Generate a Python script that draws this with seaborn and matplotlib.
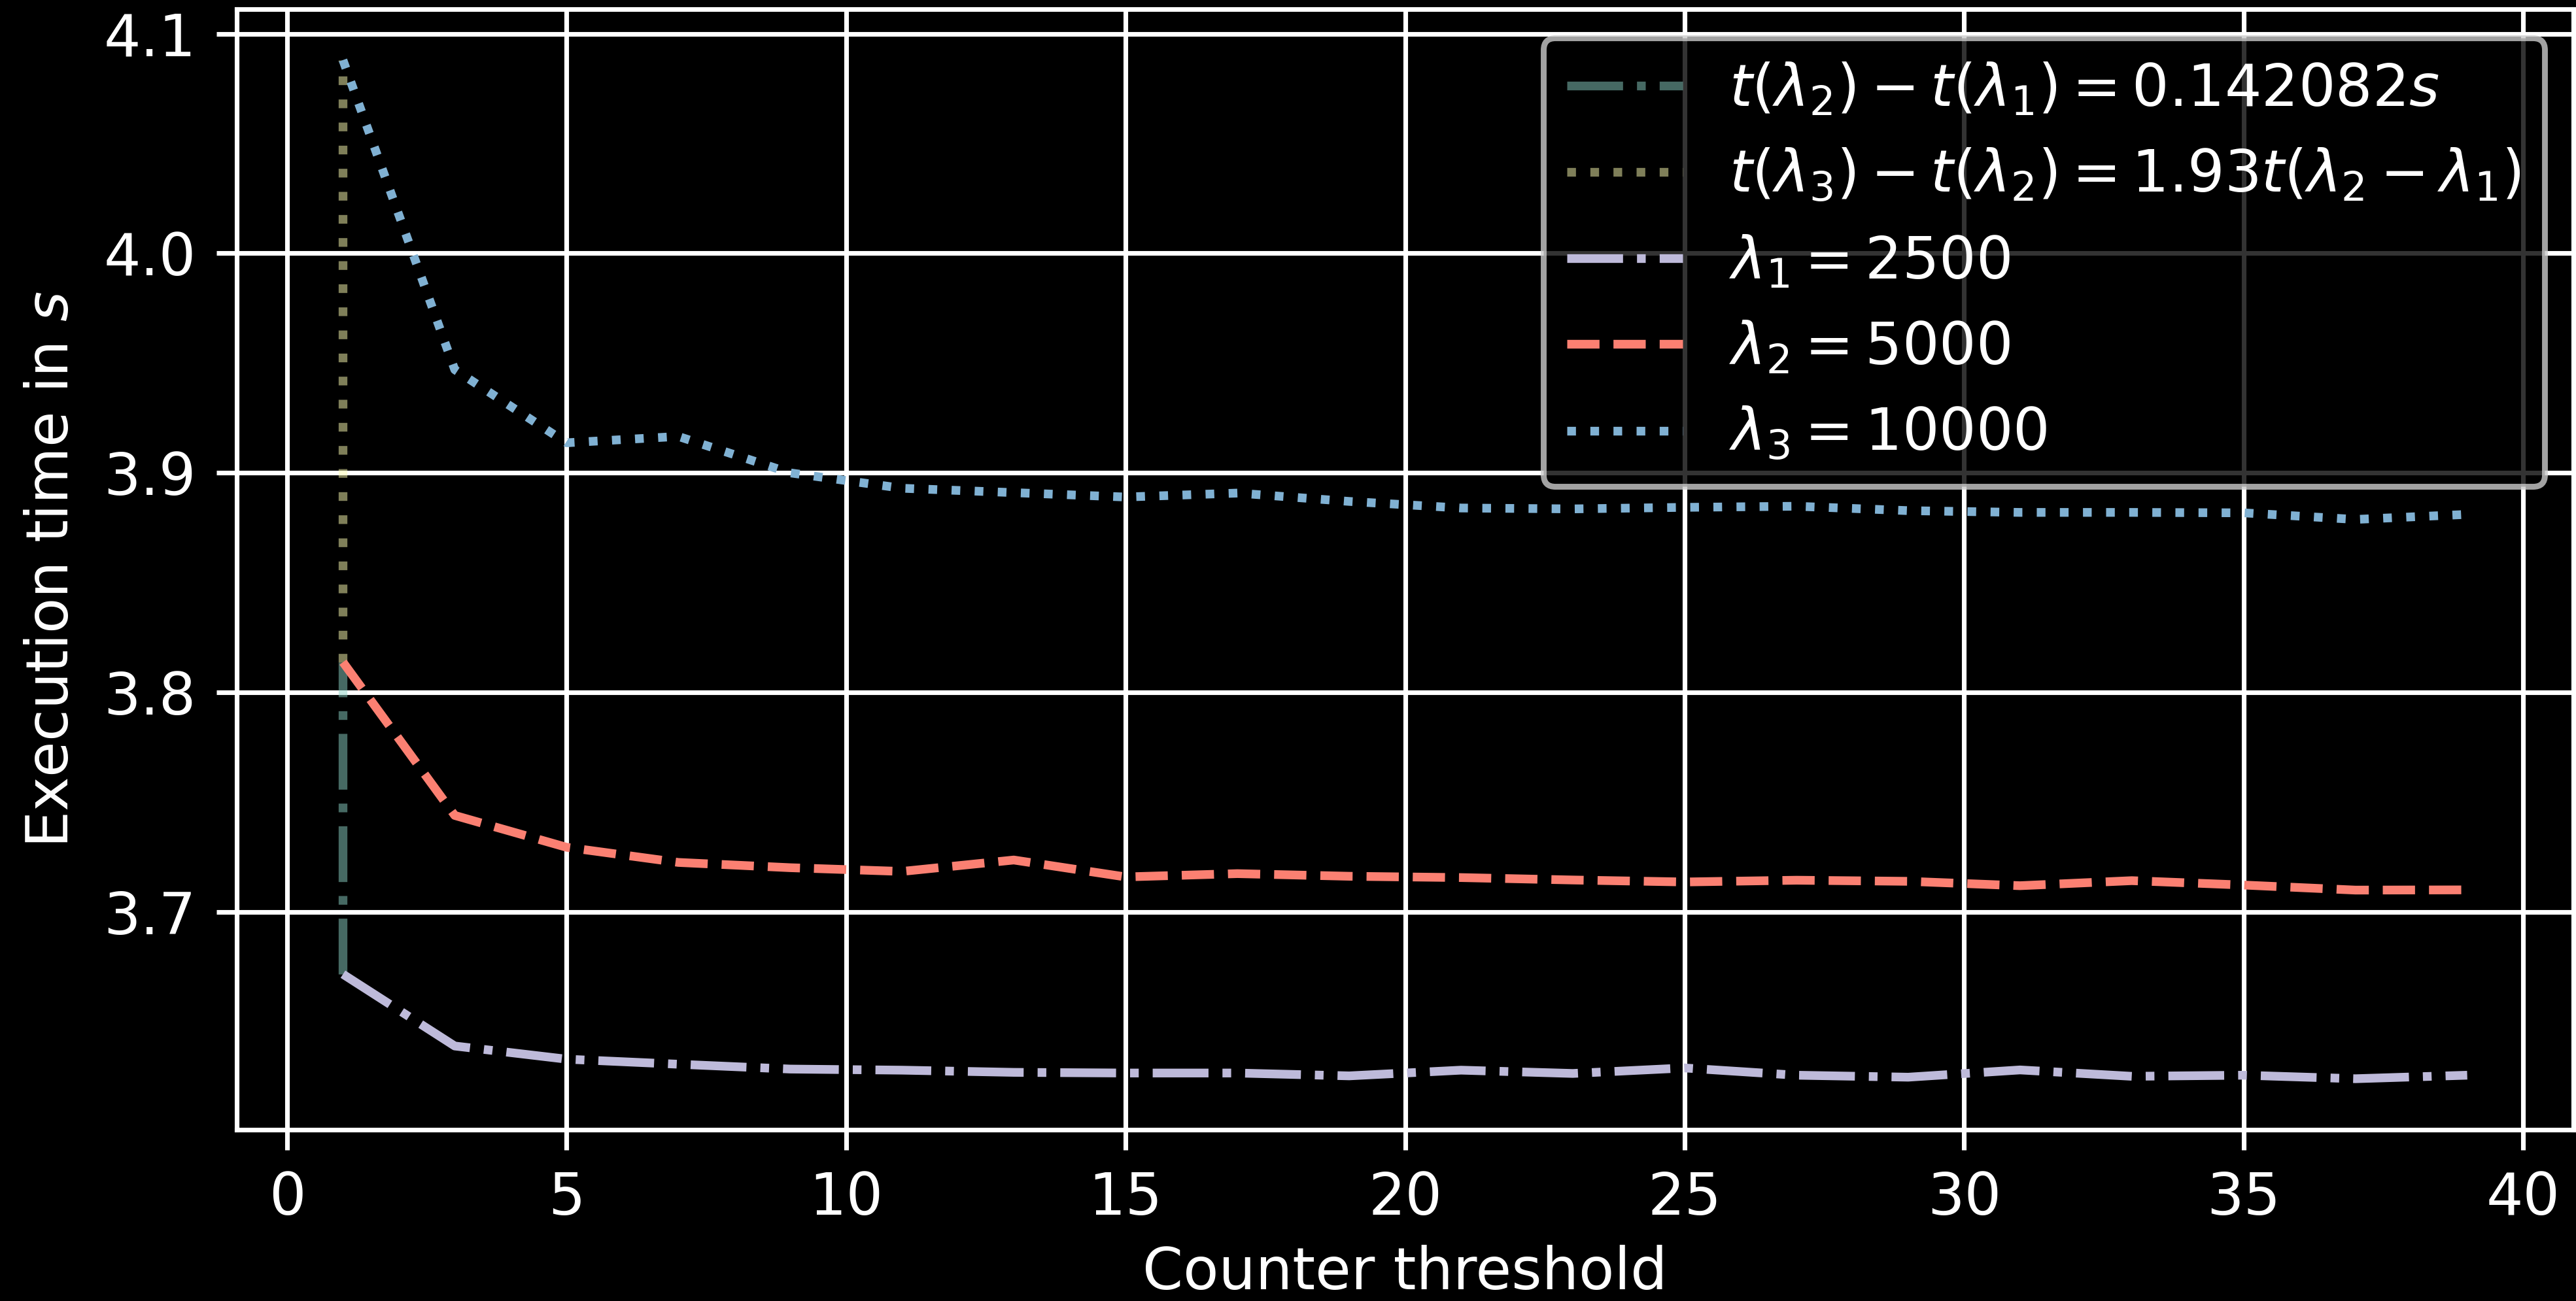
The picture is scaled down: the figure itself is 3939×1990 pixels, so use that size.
import matplotlib
matplotlib.use("Agg")
import matplotlib.pyplot as plt
import seaborn as sns

# counter thresholds (odd values 1..39)
thresholds = [1, 3, 5, 7, 9, 11, 13, 15, 17, 19, 21, 23, 25, 27, 29, 31, 33, 35, 37, 39]

# execution times in seconds for each lambda
time_l1 = [3.6717, 3.6390, 3.6330, 3.6307, 3.6285, 3.6280, 3.6270, 3.6267, 3.6267, 3.6254,
           3.6280, 3.6265, 3.6290, 3.6257, 3.6248, 3.6281, 3.6252, 3.6257, 3.6241, 3.6257]
time_l2 = [3.8138, 3.7440, 3.7295, 3.7226, 3.7202, 3.7185, 3.7237, 3.7160, 3.7175, 3.7163,
           3.7157, 3.7146, 3.7137, 3.7145, 3.7140, 3.7120, 3.7143, 3.7123, 3.7100, 3.7101]
time_l3 = [4.0880, 3.9470, 3.9137, 3.9166, 3.9000, 3.8930, 3.8910, 3.8890, 3.8908, 3.8870,
           3.8840, 3.8836, 3.8843, 3.8848, 3.8828, 3.8820, 3.8820, 3.8818, 3.8788, 3.8811]

labels = [r"$t(\lambda_2) - t(\lambda_1) = 0.142082s$",
          r"$t(\lambda_3) - t(\lambda_2) = 1.93t(\lambda_2 - \lambda_1)$",
          r"$\lambda_1 = 2500$", r"$\lambda_2 = 5000$", r"$\lambda_3 = 10000$"]

plt.style.use("dark_background")
colors = sns.color_palette("Set3")

DPI = 640
fig, ax = plt.subplots(figsize=(3939 / DPI, 1990 / DPI), dpi=DPI)

# vertical difference markers at the first threshold
sns.lineplot(x=[thresholds[0], thresholds[0]], y=[time_l1[0], time_l2[0]], estimator=None, sort=False,
             color=colors[0], linestyle="dashdot", alpha=0.5, linewidth=1.5, label=labels[0], ax=ax)
sns.lineplot(x=[thresholds[0], thresholds[0]], y=[time_l2[0], time_l3[0]], estimator=None, sort=False,
             color=colors[1], linestyle="dotted", alpha=0.5, linewidth=1.5, label=labels[1], ax=ax)

sns.lineplot(x=thresholds, y=time_l1, color=colors[2], linestyle="dashdot", linewidth=1.5, label=labels[2], ax=ax)
sns.lineplot(x=thresholds, y=time_l2, color=colors[3], linestyle="dashed", linewidth=1.5, label=labels[3], ax=ax)
sns.lineplot(x=thresholds, y=time_l3, color=colors[4], linestyle="dotted", linewidth=1.5, label=labels[4], ax=ax)

ax.set_xlabel("Counter threshold", labelpad=3.0)
ax.set_ylabel("Execution time in $s$")
ax.grid(True)
ax.legend(loc="upper right")

fig.subplots_adjust(left=0.0919, right=0.999, top=0.993, bottom=0.1317)
fig.savefig("out.png", dpi=DPI)
